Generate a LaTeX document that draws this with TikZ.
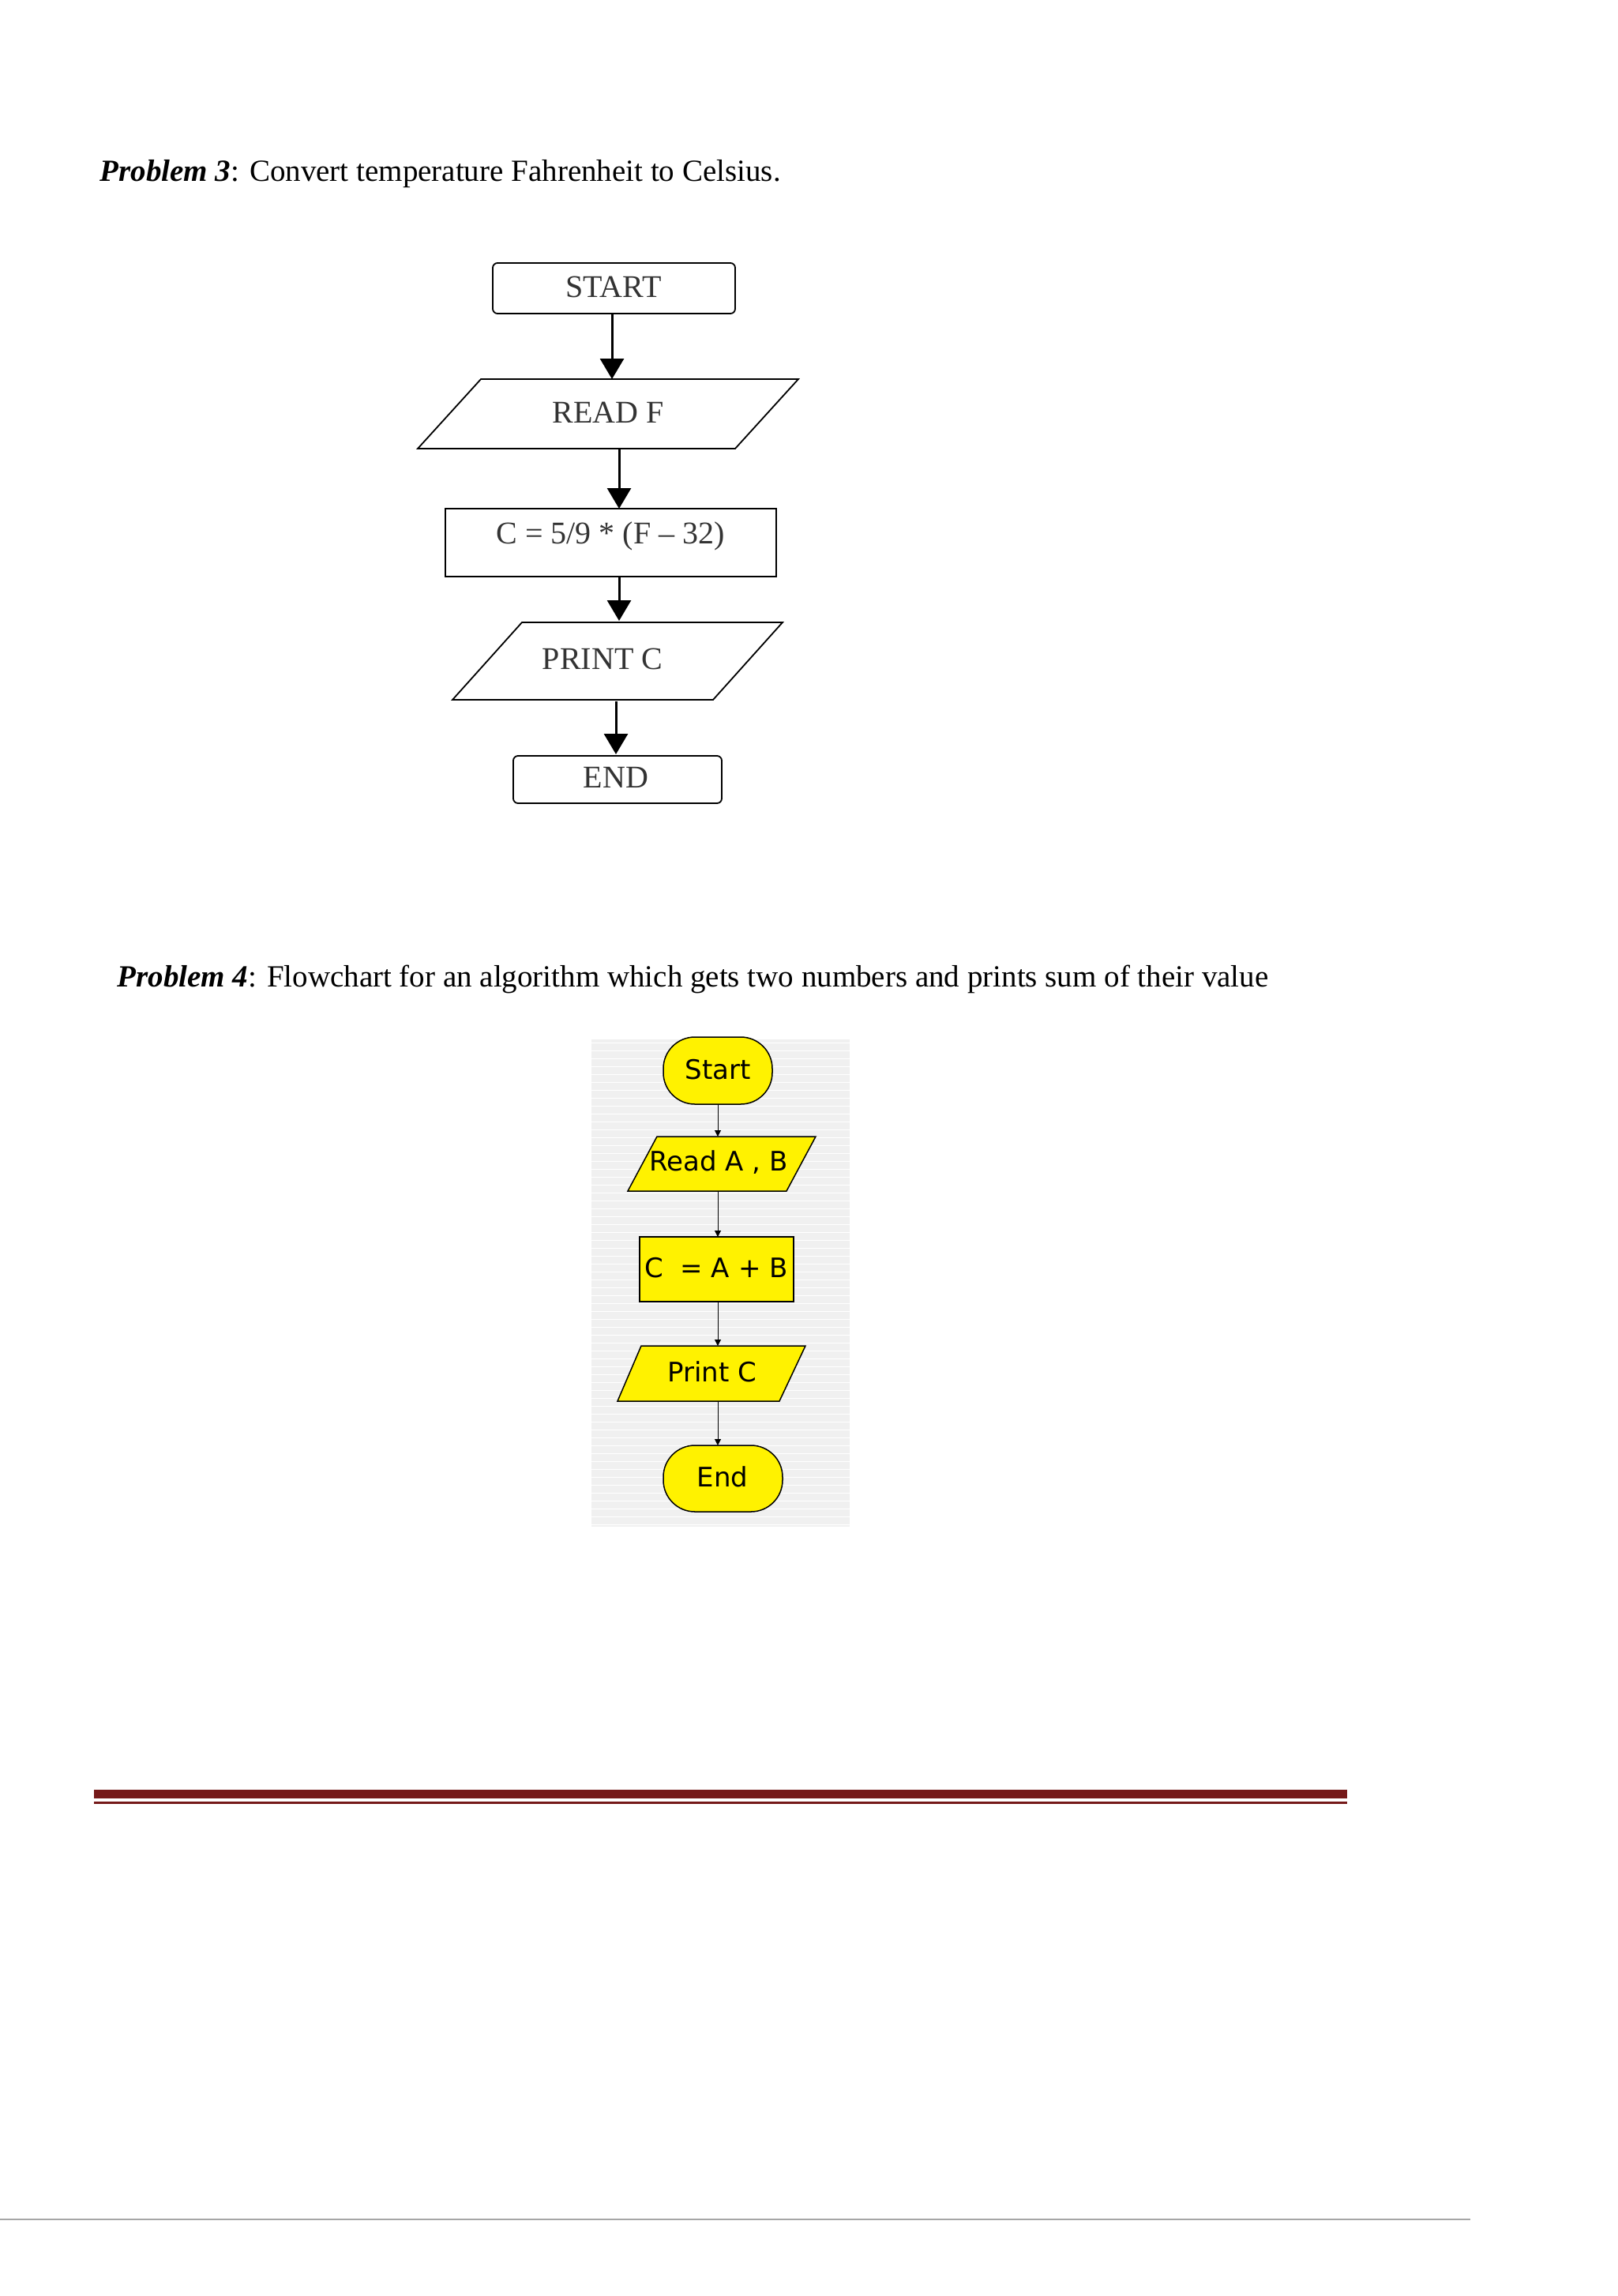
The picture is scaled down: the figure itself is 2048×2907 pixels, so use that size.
\documentclass[tikz,border=0pt]{standalone}
\usepackage{fontspec}
\setmainfont{Liberation Serif}
\newfontfamily\pfsans{DejaVu Sans}
\usetikzlibrary{arrows.meta}
\begin{document}
\begin{tikzpicture}[x=1pt,y=-1pt,
  bigarrow/.style={line width=3pt,-{Triangle[length=26pt,width=30pt]}},
  smallarrow/.style={line width=1pt,-{Triangle[length=8pt,width=8pt]}},
  pthree/.style={font=\fontsize{40}{44}\selectfont,text=black!80},
  pfour/.style={font=\pfsans\fontsize{34}{38}\selectfont},
  shapeA/.style={draw,line width=1.8pt},
  shapeB/.style={draw,line width=1.5pt,fill=yellow}]
\useasboundingbox (0,0) rectangle (2048,2907);
% titles
\node[anchor=base west,font=\fontsize{39}{44}\selectfont] (t3) at (123,229) {\textbf{\textit{Problem 3}}: Convert temperature Fahrenheit to Celsius.};
\node[anchor=base west,font=\fontsize{39}{44}\selectfont] (t4) at (145,1249) {\textbf{\textit{Problem 4}}: Flowchart for an algorithm which gets two numbers and prints sum of their value};
% Problem 3
\draw[shapeA,rounded corners=6pt] (624,333) rectangle (931,397);
\node[pthree] (s) at (777,363) {START};
\draw[shapeA] (609,480) -- (1011,480) -- (931,568) -- (529,568) -- cycle;
\node[pthree] (r) at (770,522) {READ F};
\draw[shapeA] (564,644) rectangle (983,730);
\node[pthree] (c) at (773,679) {C = 5/9 * (F -- 32)};
\draw[shapeA] (661,788) -- (991,788) -- (903,886) -- (573,886) -- cycle;
\node[pthree] (p) at (763,834) {PRINT C};
\draw[shapeA,rounded corners=6pt] (650,957) rectangle (914,1017);
\node[pthree] (e) at (780,984) {END};
\coordinate (a1s) at (775,397); \coordinate (a1e) at (775,480);
\coordinate (a2s) at (784,568); \coordinate (a2e) at (784,644);
\coordinate (a3s) at (784,730); \coordinate (a3e) at (784,786);
\coordinate (a4s) at (780,888); \coordinate (a4e) at (780,955);
\draw[bigarrow] (a1s) -- (a1e);
\draw[bigarrow] (a2s) -- (a2e);
\draw[bigarrow] (a3s) -- (a3e);
\draw[bigarrow] (a4s) -- (a4e);
% Problem 4
\fill[gray!12] (749,1316) rectangle (1076,1933);
\foreach \yy in {1320,1330,...,1930} \draw[white,line width=0.8pt] (749,\yy) -- (1076,\yy);
\draw[shapeB,rounded corners=40pt] (840,1313) rectangle (978,1398);
\node[pfour] (S) at (909,1354) {Start};
\draw[shapeB] (832,1439) -- (1033,1439) -- (996,1508) -- (795,1508) -- cycle;
\node[pfour] (R) at (910,1472) {Read A , B};
\draw[shapeB] (810,1566) rectangle (1005,1648);
\node[pfour] (C) at (907,1605) {C \ = A + B};
\draw[shapeB] (812,1704) -- (1020,1704) -- (987,1774) -- (782,1774) -- cycle;
\node[pfour] (P) at (902,1737) {Print C};
\draw[shapeB,rounded corners=40pt] (840,1830) rectangle (991,1914);
\node[pfour] (E) at (915,1870) {End};
\coordinate (b1s) at (909,1398); \coordinate (b1e) at (909,1439);
\coordinate (b2s) at (909,1508); \coordinate (b2e) at (909,1566);
\coordinate (b3s) at (909,1648); \coordinate (b3e) at (909,1704);
\coordinate (b4s) at (909,1774); \coordinate (b4e) at (909,1830);
\draw[smallarrow] (b1s) -- (b1e);
\draw[smallarrow] (b2s) -- (b2e);
\draw[smallarrow] (b3s) -- (b3e);
\draw[smallarrow] (b4s) -- (b4e);
% rules
\fill[red!40!black!90] (119,2266) rectangle (1706,2277);
\fill[red!40!black!90] (119,2281) rectangle (1706,2284);
\draw[gray!70,line width=1.5pt] (0,2810) -- (1862,2810);
\end{tikzpicture}
\end{document}
